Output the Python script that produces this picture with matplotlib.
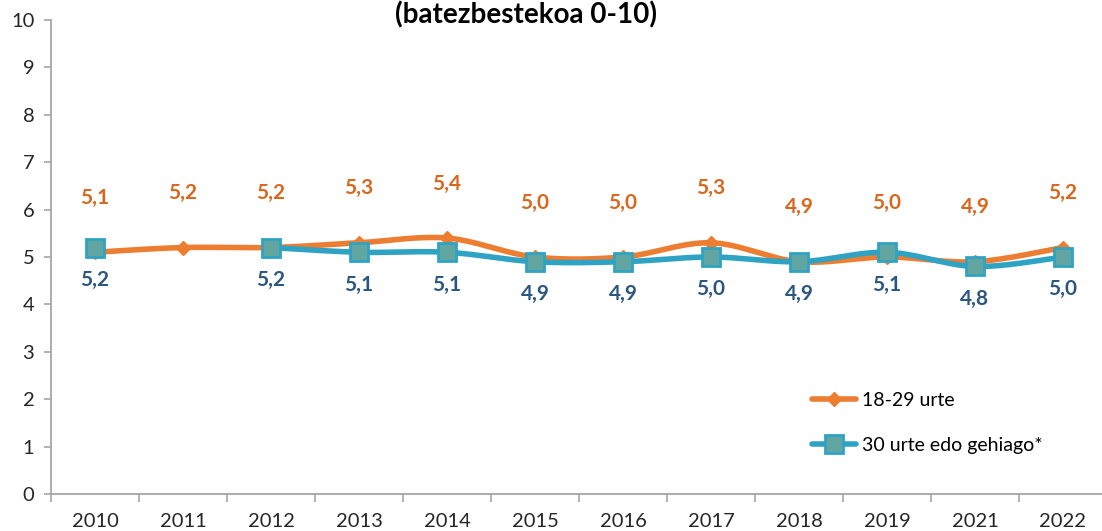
import numpy as np
import matplotlib
matplotlib.use("Agg")
import matplotlib.pyplot as plt
from matplotlib.lines import Line2D

years = ["2010", "2011", "2012", "2013", "2014", "2015", "2016", "2017", "2018", "2019", "2021", "2022"]
young = [5.1, 5.2, 5.2, 5.3, 5.4, 5.0, 5.0, 5.3, 4.9, 5.0, 4.9, 5.2]
older = [5.2, np.nan, 5.2, 5.1, 5.1, 4.9, 4.9, 5.0, 4.9, 5.1, 4.8, 5.0]
title = "(batezbestekoa 0-10)"
series_names = ["18-29 urte", "30 urte edo gehiago*"]

FONT = ["Lato", "DejaVu Sans"]
plt.rcParams['font.family'] = FONT

ORANGE = "#ED7D31"
ORANGE_TXT = "#D9681E"
TEAL = "#2FA3C4"
TEAL_FACE = "#62A6A2"
BLUE_TXT = "#2C5783"
GRAY = "#A6A6A6"


def smooth(xs, ys, n=30):
    xs = np.asarray(xs, float)
    ys = np.asarray(ys, float)
    if len(xs) < 2:
        return xs, ys
    px = np.concatenate([[xs[0]], xs, [xs[-1]]])
    py = np.concatenate([[ys[0]], ys, [ys[-1]]])
    ox, oy = [], []
    for i in range(1, len(px) - 2):
        p0 = np.array([px[i - 1], py[i - 1]])
        p1 = np.array([px[i], py[i]])
        p2 = np.array([px[i + 1], py[i + 1]])
        p3 = np.array([px[i + 2], py[i + 2]])
        c1 = p1 + (p2 - p0) / 6.0
        c2 = p2 - (p3 - p1) / 6.0
        t = np.linspace(0, 1, n)[:, None]
        b = ((1 - t) ** 3) * p1 + 3 * ((1 - t) ** 2) * t * c1 + 3 * (1 - t) * t ** 2 * c2 + t ** 3 * p2
        ox.extend(b[:, 0])
        oy.extend(b[:, 1])
    return np.array(ox), np.array(oy)


def segments(x, y):
    segs, cur = [], []
    for xi, yi in zip(x, y):
        if np.isnan(yi):
            if cur:
                segs.append(cur)
            cur = []
        else:
            cur.append((xi, yi))
    if cur:
        segs.append(cur)
    return segs


fig = plt.figure(figsize=(11.02, 5.31), dpi=100)
ax = fig.add_axes([51 / 1102, 1 - 494 / 531, 1056 / 1102, 474 / 531])

x = np.arange(len(years))

# orange series
sx, sy = smooth(x, young)
ax.plot(sx, sy, color=ORANGE, lw=4, solid_capstyle='round', zorder=3)
ax.plot(x, young, ls='none', marker='D', ms=7.5, color=ORANGE, zorder=4)

# teal series
for seg in segments(x, older):
    xs = [p[0] for p in seg]
    ys = [p[1] for p in seg]
    if len(xs) > 1:
        tx, ty = smooth(xs, ys)
        ax.plot(tx, ty, color=TEAL, lw=4, solid_capstyle='round', zorder=5)
ax.plot(x, older, ls='none', marker='s', ms=12.5, mfc=TEAL_FACE, mec=TEAL, mew=2, zorder=6)

for xi, v in zip(x, young):
    ax.annotate(f"{v:.1f}".replace('.', ','), (xi, v), xytext=(0, 32), textcoords='offset points',
                ha='center', va='bottom', color=ORANGE_TXT, fontsize=15, fontweight='bold')
for xi, v in zip(x, older):
    if np.isnan(v):
        continue
    ax.annotate(f"{v:.1f}".replace('.', ','), (xi, v), xytext=(0, -16), textcoords='offset points',
                ha='center', va='top', color=BLUE_TXT, fontsize=15, fontweight='bold')

ax.set_xlim(-0.5, len(years) - 0.5)
ax.set_ylim(0, 10)
ax.set_yticks(range(0, 11))
ax.set_xticks(x)
ax.set_xticklabels(years)
ax.set_xticks(np.arange(-0.5, len(years), 1.0), minor=True)
ax.tick_params(axis='x', which='major', length=0, pad=14, labelsize=14.5, colors='#262626')
ax.tick_params(axis='x', which='minor', length=6, direction='out', color=GRAY, width=1.2)
ax.tick_params(axis='y', length=5, direction='out', color=GRAY, width=1.2, labelsize=14.5, colors='#262626', pad=7)

for s in ['top', 'right']:
    ax.spines[s].set_visible(False)
for s in ['left', 'bottom']:
    ax.spines[s].set_color(GRAY)
    ax.spines[s].set_linewidth(1.3)

fig.text(526 / 1102, 1 - 15 / 531, title, ha='center', va='center', fontsize=20, fontweight='bold', color='black')

handles = [
    Line2D([0], [0], color=ORANGE, lw=4, marker='D', ms=7.5, solid_capstyle='round'),
    Line2D([0], [0], color=TEAL, lw=4, marker='s', ms=12.5, mfc=TEAL_FACE, mec=TEAL, mew=2, solid_capstyle='round'),
]
leg = fig.legend(handles, series_names, loc='upper left', bbox_to_anchor=(794 / 1102, 1 - 374 / 531),
                 frameon=False, fontsize=14, handlelength=2.3, labelspacing=1.45, handletextpad=0.3)

fig.savefig("out.png", dpi=100)
